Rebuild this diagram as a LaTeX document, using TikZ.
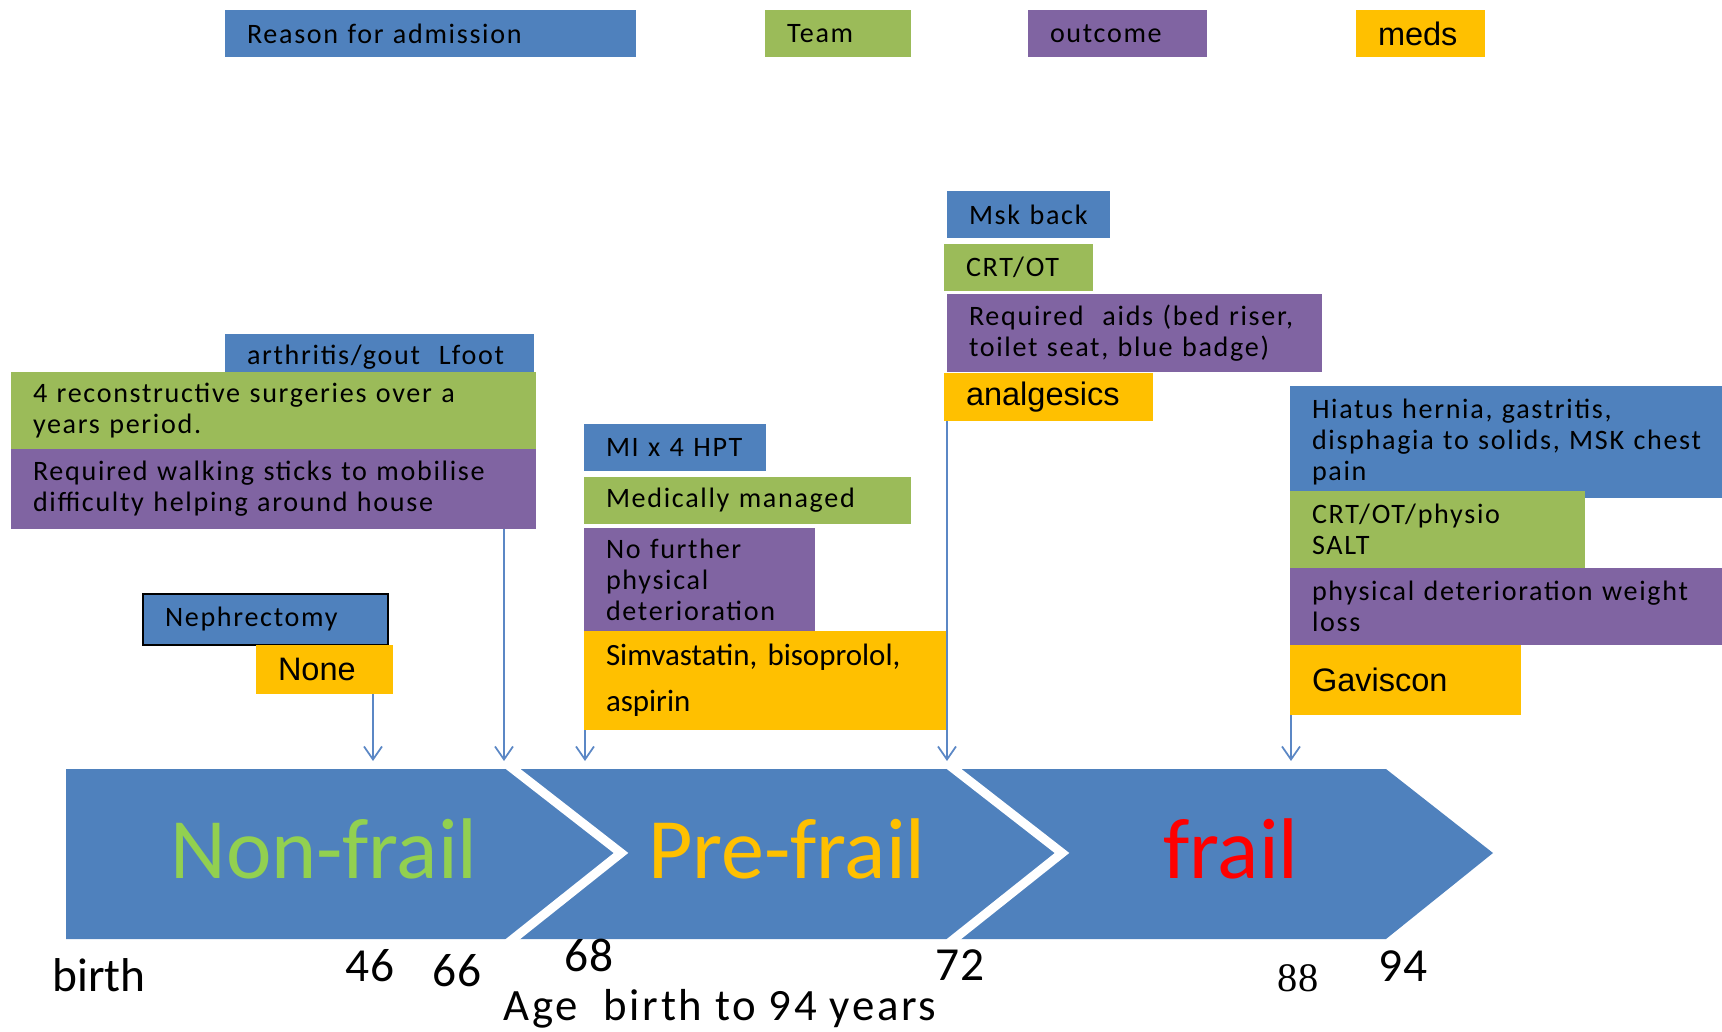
\documentclass[tikz,border=0pt]{standalone}
\usepackage{fontspec}
\setmainfont{Carlito}
\newfontfamily\spacedfont{Carlito}[LetterSpace=6]
\newfontfamily\arialfont{Liberation Sans}
\newfontfamily\timesfont{Liberation Serif}
\usetikzlibrary{arrows.meta}
\definecolor{reasonblue}{HTML}{4F81BD}
\definecolor{teamgreen}{HTML}{9BBB59}
\definecolor{outcpurple}{HTML}{8064A2}
\definecolor{medsyellow}{HTML}{FFC000}
\definecolor{linkblue}{HTML}{5B87C5}
\definecolor{nonfrailgreen}{HTML}{92D050}

\begin{document}
\begin{tikzpicture}[x=0.2mm,y=-0.2mm,inner sep=0pt,outer sep=0pt,
>={Straight Barb[length=2.6mm,width=3.6mm]},
box/.style={anchor=north west,inner xsep=4.4mm,inner ysep=0pt,align=left,
  font=\spacedfont\fontsize{16}{17.6}\selectfont},
reason/.style={box,fill=reasonblue},
team/.style={box,fill=teamgreen},
outc/.style={box,fill=outcpurple},
medsbox/.style={box,fill=medsyellow,font=\arialfont\fontsize{18.5}{22}\selectfont},
conn/.style={->,draw=linkblue,line width=0.35mm},
stage/.style={fill=reasonblue},
stagetext/.style={font=\fontsize{49}{52}\selectfont},
agetext/.style={font=\fontsize{27}{30}\selectfont}]

\useasboundingbox (0,0) rectangle (1722,1032);

% legend
\draw (225,10) node[reason,text width=73.4mm,minimum height=9.4mm] (legR) {Reason for admission};
\draw (765,10) node[team,text width=20.4mm,minimum height=9.4mm] (legT) {Team};
\draw (1028,10) node[outc,text width=27mm,minimum height=9.4mm] (legO) {outcome};
\draw (1356,10) node[medsbox,text width=17mm,minimum height=9.4mm] (legM) {meds};

% age 46 / 66
\draw (225,334) node[reason,text width=53mm,minimum height=9.4mm] (artR) {arthritis/gout \ Lfoot};
\draw (11,372) node[team,text width=96.2mm,minimum height=15.4mm] (artT) {4 reconstructive surgeries over a\\years period.};
\draw (11,449) node[outc,text width=96.2mm,minimum height=16mm] (artO) {Required walking sticks to mobilise\\difficulty helping around house};
\draw (143,594) node[reason,draw=black,line width=0.4mm,text width=40.2mm,minimum height=10.2mm] (neph) {Nephrectomy};
\draw (256,645) node[medsbox,text width=18.6mm,minimum height=9.8mm] (none) {None};

% age 68
\draw (584,424) node[reason,text width=27.6mm,minimum height=9.4mm] (miR) {MI x 4 HPT};
\draw (584,477) node[team,text width=56.6mm,minimum height=9.4mm] (miT) {Medically managed};
\draw (584,528) node[outc,text width=37.4mm,minimum height=20.6mm] (miO) {No further\\physical\\deterioration};
\draw (584,631) node[medsbox,font=\fontsize{17.6}{26}\selectfont,text width=63.8mm,minimum height=19.8mm] (miM) {Simvastatin, bisoprolol,\\aspirin};

% age 72
\draw (947,191) node[reason,text width=23.8mm,minimum height=9.4mm] (mskR) {Msk back};
\draw (944,244) node[team,text width=21mm,minimum height=9.4mm] (mskT) {CRT/OT};
\draw (947,294) node[outc,text width=66.2mm,minimum height=15.6mm] (mskO) {Required \ aids (bed riser,\\toilet seat, blue badge)};
\draw (944,373) node[medsbox,text width=33mm,minimum height=9.6mm] (mskM) {analgesics};

% age 88
\draw (1290,386) node[reason,text width=77.6mm,minimum height=22.4mm] (hiaR) {Hiatus hernia, gastritis,\\disphagia to solids, MSK chest\\pain};
\draw (1290,491) node[team,text width=50.2mm,minimum height=15.4mm] (hiaT) {CRT/OT/physio\\SALT};
\draw (1290,568) node[outc,text width=77.6mm,minimum height=15.4mm] (hiaO) {physical deterioration weight\\loss};
\draw (1290,645) node[medsbox,text width=37.4mm,minimum height=14mm] (hiaM) {Gaviscon};

% stages
\fill[stage] (66,769) -- (508,769) -- (621,853) -- (508,939) -- (66,939) -- cycle;
\fill[stage] (508,769) -- (949,769) -- (1062,853) -- (949,939) -- (508,939) -- (621,853) -- cycle;
\fill[stage] (949,769) -- (1386,769) -- (1493,853) -- (1386,939) -- (949,939) -- (1062,853) -- cycle;
\draw[white,line width=1.8mm] (508,765) -- (621,853) -- (508,943);
\draw[white,line width=1.8mm] (949,765) -- (1062,853) -- (949,943);
\draw (324,849) node[stagetext,text=nonfrailgreen] (nonfrail) {Non-frail};
\draw (787,849) node[stagetext,text=medsyellow] (prefrail) {Pre-frail};
\draw (1231,849) node[stagetext,text=red] (frail) {frail};

% links to the time line
\coordinate (t46) at (373,761);
\coordinate (t66) at (504,761);
\coordinate (t68) at (585,761);
\coordinate (t72) at (947,761);
\coordinate (t88) at (1291,761);
\draw[conn] (none.south -| t46) -- (t46);
\draw[conn] (artO.south -| t66) -- (t66);
\draw[conn] (miM.south -| t68) -- (t68);
\draw[conn] (mskM.south -| t72) -- (t72);
\draw[conn] (hiaM.south -| t88) -- (t88);

% ages
\draw (99,975) node[agetext] (birth) {birth};
\draw (370,966) node[agetext] (a46) {46};
\draw (457,971) node[agetext] (a66) {66};
\draw (589,955) node[agetext] (a68) {68};
\draw (960,965) node[agetext] (a72) {72};
\draw (1298,978) node[font=\timesfont\fontsize{23}{26}\selectfont] (a88) {88};
\draw (1403,966) node[agetext] (a94) {94};
\draw (720,1009) node[font=\spacedfont\fontsize{25.5}{28}\selectfont] (axis) {Age \ birth to 94 years};
\end{tikzpicture}
\end{document}
